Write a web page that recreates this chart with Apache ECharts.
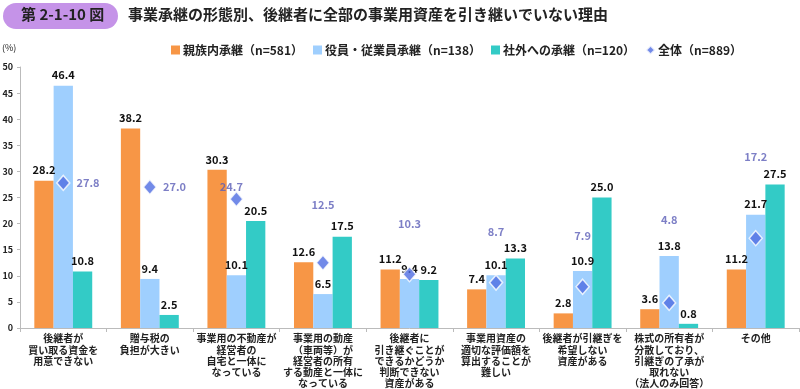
<!DOCTYPE html>
<html><head><meta charset="utf-8">
<script src="https://cdn.jsdelivr.net/npm/echarts@6/dist/echarts.min.js"></script>
<style>html,body{margin:0;padding:0;background:#fff}#c{width:800px;height:389px}</style>
</head><body><div id="c"></div>
<script>
const categories = [
  "後継者が\n買い取る資金を\n用意できない",
  "贈与税の\n負担が大きい",
  "事業用の不動産が\n経営者の\n自宅と一体に\nなっている",
  "事業用の動産\n（車両等）が\n経営者の所有\nする動産と一体に\nなっている",
  "後継者に\n引き継ぐことが\nできるかどうか\n判断できない\n資産がある",
  "事業用資産の\n適切な評価額を\n算出することが\n難しい",
  "後継者が引継ぎを\n希望しない\n資産がある",
  "株式の所有者が\n分散しており、\n引継ぎの了承が\n取れない\n（法人のみ回答）",
  "その他"
];
const seriesNames = ["親族内承継（n=581）","役員・従業員承継（n=138）","社外への承継（n=120）","全体（n=889）"];
const family = [28.2, 38.2, 30.3, 12.6, 11.2, 7.4, 2.8, 3.6, 11.2];
const employee = [46.4, 9.4, 10.1, 6.5, 9.4, 10.1, 10.9, 13.8, 21.7];
const outside = [10.8, 2.5, 20.5, 17.5, 9.2, 13.3, 25.0, 0.8, 27.5];
const overall = [27.8, 27.0, 24.7, 12.5, 10.3, 8.7, 7.9, 4.8, 17.2];
const yTicks = [0, 5, 10, 15, 20, 25, 30, 35, 40, 45, 50];

// label placement (style) for the overall markers
const overallLabelStyle = [
  {position:'right', distance:6},
  {position:'right', distance:6},
  {position:'top', distance:0, offset:[-5,2]},
  {position:'top', distance:44},
  {position:'top', distance:37},
  {position:'top', distance:37},
  {position:'top', distance:37},
  {position:'top', distance:69},
  {position:'top', distance:68}
];

const FONT = '"Noto Sans CJK JP", "Noto Sans", sans-serif';
const chart = echarts.init(document.getElementById('c'), null, {renderer:'canvas'});
const barLabel = {show:true, position:'top', distance:5, color:'#111', fontWeight:'bold', fontSize:11, fontFamily:FONT, formatter:p=>p.value.toFixed(1)};
const colors = ['#f79646','#9fcffe','#33cbc6','#4f6de2'];

chart.setOption({
  animation:false,
  textStyle:{fontFamily:FONT},
  graphic:[
    {type:'rect', left:3, top:3, shape:{width:115, height:26, r:13}, style:{fill:'#c593e8'}},
    {type:'text', left:21, top:7, style:{text:'第 2-1-10 図', font:'bold 15px '+FONT, fill:'#222'}},
    {type:'text', left:128, top:7, style:{text:'事業承継の形態別、後継者に全部の事業用資産を引き継いでいない理由', font:'bold 15px '+FONT, fill:'#222'}},
    {type:'text', left:2, top:43, style:{text:'(%)', font:'9px '+FONT, fill:'#222'}}
  ],
  legend:{
    top:39, left:166, itemWidth:9, itemHeight:9, itemGap:10,
    textStyle:{fontSize:12, fontWeight:'bold', color:'#222', fontFamily:FONT, padding:[0,0,0,-2]},
    data:[
      {name:seriesNames[0], icon:'rect'},
      {name:seriesNames[1], icon:'rect'},
      {name:seriesNames[2], icon:'rect'},
      {name:seriesNames[3], icon:'diamond'}
    ]
  },
  grid:{left:20, right:1, top:67, bottom:61, containLabel:false, outerBoundsMode:'none'},
  xAxis:{
    type:'category', data:categories,
    axisLine:{lineStyle:{color:'#bbb'}},
    axisTick:{show:true, length:4, lineStyle:{color:'#bbb'}},
    axisLabel:{interval:0, fontSize:10, fontWeight:'bold', color:'#222', lineHeight:11.2, margin:5, fontFamily:FONT}
  },
  yAxis:{
    type:'value', min:yTicks[0], max:yTicks[yTicks.length-1], interval:5,
    splitLine:{show:false},
    axisLine:{show:true, lineStyle:{color:'#bbb'}},
    axisTick:{show:true, length:3, lineStyle:{color:'#bbb'}},
    axisLabel:{fontSize:9, fontWeight:'bold', color:'#222', margin:7, fontFamily:FONT}
  },
  series:[
    {name:seriesNames[0], type:'bar', data:family, barWidth:19.3, barGap:'0%', itemStyle:{color:colors[0]}, label:barLabel},
    {name:seriesNames[1], type:'bar', data:employee, barWidth:19.3, barGap:'0%', itemStyle:{color:colors[1]}, label:barLabel},
    {name:seriesNames[2], type:'bar', data:outside, barWidth:19.3, barGap:'0%', itemStyle:{color:colors[2]}, label:barLabel},
    {name:seriesNames[3], type:'scatter', symbol:'diamond', symbolSize:[13,15], z:5,
     itemStyle:{color:colors[3], borderColor:'#fff', borderWidth:1.5},
     data:overall.map((v,i)=>({value:v, label:Object.assign({show:true, color:'#5c5fb8', fontSize:11, fontWeight:'bold', fontFamily:FONT, formatter:p=>p.value.toFixed(1)}, overallLabelStyle[i])}))
    }
  ]
});
</script></body></html>
